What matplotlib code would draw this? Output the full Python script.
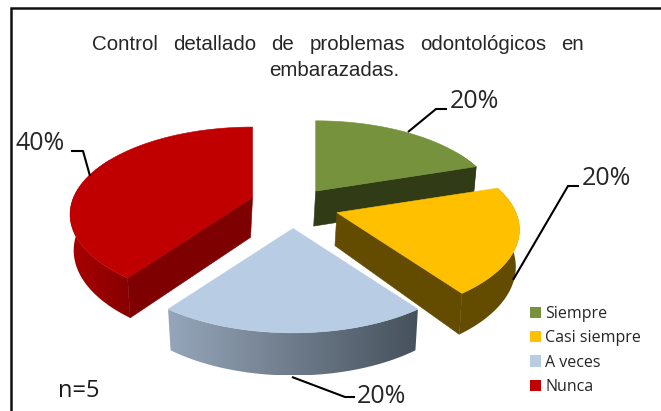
import numpy as np
import matplotlib
matplotlib.use('Agg')
import matplotlib.pyplot as plt
from matplotlib.colors import LinearSegmentedColormap
from matplotlib.patches import Patch, Polygon

categories = ['Siempre', 'Casi siempre', 'A veces', 'Nunca']
values = [20, 20, 20, 40]
pct_labels = ['20%', '20%', '20%', '40%']
title_line1 = ['Control', 'detallado', 'de', 'problemas', 'odontológicos', 'en']
title_line2 = 'embarazadas.'
note = 'n=5'

top_colors = ['#76923c', '#ffc000', '#b8cce4', '#c00000']
# outer wall colour, left to right on screen
wall_colors = [('#313c17', '#313c17'), ('#634c00', '#634c00'),
               ('#96a6ba', '#46515c'), ('#a80000', '#860000')]
cut_colors = ['#313c17', '#634c00', '#46515c', '#7f0000']

# projection of the tilted pie, in pixels
cx, cy = 294, 207
rx, ry, persp = 179, 84, 0.195
depth = 36
explode_x, explode_y = 42, 21.5
# small per slice corrections, the original is not quite regular
nudge_x = [-3, 3, -1, -1.5]
nudge_y = [1.5, -1, 0, -3]
apex_depth = [35, 33, 36, 40]
wall_scale = [1, 1, 1, 0.97]

fig = plt.figure(figsize=(6.61, 4.11), dpi=100)
ax = fig.add_axes([0, 0, 1, 1])
ax.set_xlim(0, 661)
ax.set_ylim(411, 0)
ax.axis('off')


def project(theta):
    # theta is clockwise from the top
    X, Y = np.sin(theta), np.cos(theta)
    w = 1 + persp * Y
    return rx * X / w, -ry * Y / w, depth / w


total = sum(values)
start = 0
for i, v in enumerate(values):
    a0 = start / total * 2 * np.pi
    a1 = (start + v) / total * 2 * np.pi
    start += v
    mid = (a0 + a1) / 2
    ax0 = cx + explode_x * np.sin(mid) + nudge_x[i]
    ay0 = cy - explode_y * np.cos(mid) + nudge_y[i]

    t = np.linspace(a0, a1, 120)
    dx, dy, dz = project(t)
    tx, ty = ax0 + dx, ay0 + dy
    bx, by = ax0 + 0.98 * dx, ay0 + 0.98 * dy + dz * wall_scale[i]

    # cut faces, only the ones that can be seen
    for k, seen in ((0, np.sin(a0) < -1e-9), (-1, np.sin(a1) > 1e-9)):
        if seen:
            ax.add_patch(Polygon([(ax0, ay0), (tx[k], ty[k]), (bx[k], by[k]), (ax0 - 2, ay0 + apex_depth[i])],
                                 fc=cut_colors[i], ec=cut_colors[i], lw=0.4, zorder=i + 1))

    # outer wall, only the part that faces the viewer
    vis = np.cos(t) < 0.5
    if vis.sum() > 1:
        pts = list(zip(tx[vis], ty[vis])) + list(zip(bx[vis][::-1], by[vis][::-1]))
        wall = Polygon(pts, fc='none', ec='none', zorder=i + 1.1)
        ax.add_patch(wall)
        cmap = LinearSegmentedColormap.from_list('wall', wall_colors[i])
        xs = [p[0] for p in pts]
        ys = [p[1] for p in pts]
        im = ax.imshow(np.linspace(0, 1, 256).reshape(1, -1), cmap=cmap, aspect='auto',
                       extent=(min(xs), max(xs), max(ys), min(ys)), zorder=i + 1.1)
        im.set_clip_path(wall)

    top = [(ax0, ay0)] + list(zip(tx, ty))
    ax.add_patch(Polygon(top, fc=top_colors[i], ec=top_colors[i], lw=0.4, zorder=i + 1.2))

ax.set_xlim(0, 661)
ax.set_ylim(411, 0)

# leader lines and percentages
leaders = [[(408, 132), (436, 109), (447, 109)],
           [(513, 280), (568, 186), (579, 186)],
           [(292, 377), (345, 397), (355, 397)],
           [(90, 176), (83, 151), (71, 151)]]
label_pos = [(474, 101), (606, 178), (381, 396), (40, 143)]
for line, pos, lab in zip(leaders, label_pos, pct_labels):
    ax.plot(*zip(*line), color='black', lw=1.5, solid_capstyle='butt', solid_joinstyle='round', zorder=10)
    ax.text(pos[0], pos[1], lab, family='Open Sans', fontsize=18, color='#262626', ha='center', va='center')

# justified first title line
fig.canvas.draw()
rend = fig.canvas.get_renderer()
tt = [ax.text(0, 44, w, family='Liberation Sans', fontsize=14.8, color='#262626', ha='left', va='center')
      for w in title_line1]
widths = [w.get_window_extent(rend).width for w in tt]
left, right = 92, 584
gap = (right - left - sum(widths)) / (len(tt) - 1)
x = left
for w, width in zip(tt, widths):
    w.set_x(x)
    x += width + gap
ax.text(269, 70, title_line2, family='Liberation Sans', fontsize=14.8, color='#262626', ha='left', va='center')

ax.text(58, 391, note, family='Open Sans', fontsize=17, color='#1a1a1a', ha='left', va='center')

handles = [Patch(fc=c, ec='none') for c in top_colors]
ax.legend(handles, categories, loc='upper left', bbox_to_anchor=(530 / 661, 1 - 306 / 411),
          frameon=False, prop={'family': 'Open Sans', 'size': 11.5}, labelcolor='#262626',
          handlelength=0.7, handleheight=0.7, handletextpad=0.26, labelspacing=0.52,
          borderpad=0, borderaxespad=0)

# frame of the screenshot: only top and left are visible
ax.plot([10.7, 10.7, 661], [411, 8.3, 8.3], color='#111111', lw=1.8, solid_joinstyle='miter', zorder=10)

fig.savefig('out.png', dpi=100)
